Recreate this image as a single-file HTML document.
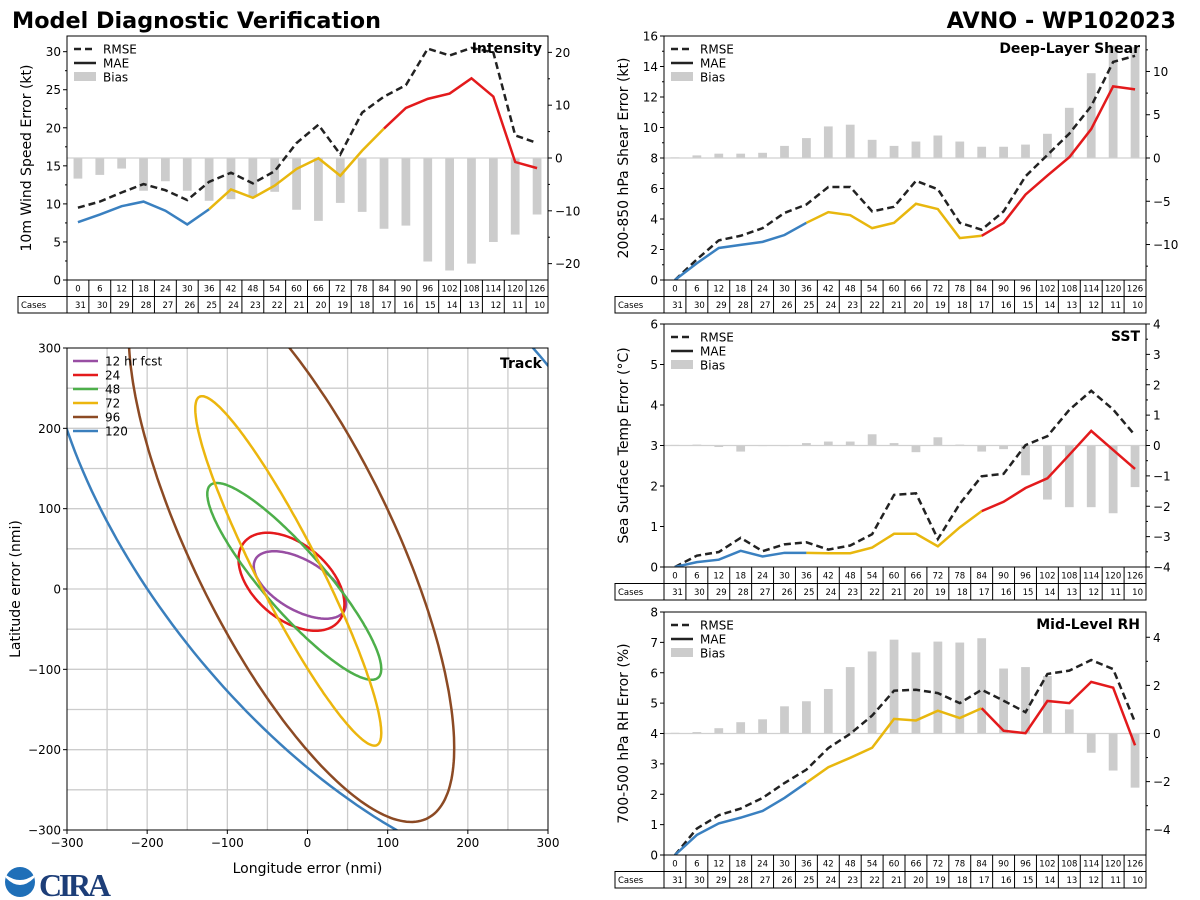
<!DOCTYPE html>
<html><head><meta charset="utf-8"><style>
body{margin:0;background:#fff;}
svg{display:block;font-family:"DejaVu Sans","Liberation Sans",sans-serif;}
</style></head><body>
<svg id="chart" width="1200" height="900" viewBox="0 0 1200 900" xmlns="http://www.w3.org/2000/svg">
<text x="12" y="28" font-size="22.3" font-weight="bold" fill="#000">Model Diagnostic Verification</text>
<text x="1176" y="28" font-size="22.3" font-weight="bold" text-anchor="end" fill="#000">AVNO - WP102023</text>
<g>
<circle cx="20" cy="882" r="15" fill="#1f6fb8"/>
<path d="M6 878 Q20 892 34 878 L34 875 Q20 885 6 875 Z" fill="#fff"/>
<text x="39" y="896" font-size="32" font-weight="bold" fill="#1d3e78" font-family="Liberation Serif, serif" textLength="72">CIRA</text>
</g>
</svg>
<script>
const hours = [0,6,12,18,24,30,36,42,48,54,60,66,72,78,84,90,96,102,108,114,120,126];
const cases = [31,30,29,28,27,26,25,24,23,22,21,20,19,18,17,16,15,14,13,12,11,10];

const intRmse = [9.5,10.3,11.5,12.6,11.8,10.5,12.9,14.1,12.7,14.3,18.0,20.4,16.5,22.0,24.1,25.6,30.4,29.5,30.5,29.9,19.0,18.0];
const intMae  = [7.6,8.6,9.7,10.3,9.1,7.3,9.3,11.9,10.8,12.4,14.6,16.0,13.7,17.0,19.9,22.6,23.8,24.5,26.5,24.1,15.5,14.7];
const intBias = [-3.9,-3.2,-2.0,-6.2,-4.4,-6.2,-8.1,-7.8,-7.3,-6.4,-9.8,-11.9,-8.5,-10.2,-13.4,-12.8,-19.6,-21.3,-20.0,-15.9,-14.5,-10.7];

const shrRmse = [0,1.35,2.6,2.9,3.4,4.4,4.95,6.1,6.1,4.5,4.8,6.5,5.95,3.75,3.3,4.5,6.8,8.2,9.6,11.4,14.3,14.7];
const shrMae  = [0,1.1,2.1,2.3,2.5,2.95,3.75,4.45,4.25,3.4,3.75,5.0,4.65,2.75,2.9,3.75,5.6,6.85,8.05,9.9,12.7,12.5];
const shrBias = [0.08,0.3,0.5,0.5,0.6,1.4,2.3,3.65,3.85,2.1,1.4,1.9,2.6,1.9,1.3,1.3,1.55,2.8,5.8,9.8,13.0,12.8];

const sstRmse = [0,0.28,0.37,0.72,0.39,0.56,0.61,0.43,0.53,0.81,1.78,1.82,0.69,1.56,2.24,2.3,3.01,3.23,3.88,4.35,3.89,3.25];
const sstMae  = [0,0.12,0.18,0.4,0.26,0.35,0.35,0.34,0.34,0.48,0.82,0.82,0.51,0.98,1.38,1.61,1.95,2.19,2.77,3.36,2.89,2.42];
const sstBias = [0.02,0.03,-0.05,-0.2,-0.02,-0.02,0.08,0.13,0.13,0.37,0.08,-0.22,0.27,0.03,-0.2,-0.12,-0.98,-1.78,-2.03,-2.03,-2.23,-1.37];

const rhRmse = [0,0.87,1.31,1.53,1.88,2.37,2.81,3.52,3.99,4.59,5.41,5.44,5.33,5.0,5.44,5.08,4.7,5.96,6.07,6.42,6.12,4.37];
const rhMae  = [0,0.66,1.04,1.23,1.45,1.88,2.38,2.89,3.2,3.53,4.48,4.43,4.75,4.51,4.83,4.09,4.01,5.07,5.0,5.7,5.51,3.61];
const rhBias = [0.03,0.06,0.22,0.47,0.59,1.13,1.34,1.85,2.76,3.41,3.9,3.37,3.82,3.78,3.96,2.7,2.76,2.39,1.0,-0.8,-1.54,-2.25];

// track ellipses: center x/y, half x extent, half y extent, correlation
const trkLabels = ['12 hr fcst','24','48','72','96','120'];
const trkCx  = [-9.5,-20,-16.5,-24,-20,83];
const trkCy  = [5,9,9.5,22.5,60,95];
const trkSx  = [57.5,66,108.5,116,203,413];
const trkSy  = [42,61,122.5,217.5,350,461];
const trkRho = [-0.561,-0.455,-0.889,-0.927,-0.736,-0.572];
const trkColors = ['#984ea3','#e41a1c','#4daf4a','#ecb60e','#8c4a24','#3a7fbd'];

const svg = document.getElementById('chart');
const NS = 'http://www.w3.org/2000/svg';
function mk(tag, attrs, parent){
  const e = document.createElementNS(NS, tag);
  for (const k in attrs) e.setAttribute(k, attrs[k]);
  (parent || svg).appendChild(e);
  return e;
}
function txt(str, attrs, parent){
  const e = mk('text', attrs, parent);
  e.textContent = str;
  return e;
}
function fmt(v){ return v < 0 ? '\u2212' + Math.abs(v) : String(v); }

let clipId = 0;
function panel(o){
  const g = mk('g', {});
  
  
  const {x0,x1,y0,y1} = o;
  const n = hours.length, cw = (x1 - x0) / n;
  const xc = i => x0 + (i + 0.5) * cw;
  const yl = v => y1 - (v / o.lMax) * (y1 - y0);
  const yr = v => y1 - (v - o.rMin) / (o.rMax - o.rMin) * (y1 - y0);
  clipId++;
  const cp = mk('clipPath', {id: 'cp' + clipId}, g);
  mk('rect', {x: x0, y: y0, width: x1 - x0, height: y1 - y0}, cp);
  const inner = mk('g', {'clip-path': 'url(#cp' + clipId + ')'}, g);
  o.bias.forEach((b, i) => {
    const top = Math.min(yr(b), yr(0)), h = Math.abs(yr(b) - yr(0));
    const r = mk('rect', {x: xc(i) - cw * 0.2, y: top, width: cw * 0.4, height: Math.max(h, 0.6), fill: '#cccccc'}, inner);
    
    
  });
  const zl = mk('line', {x1: x0, x2: x1, y1: yr(0), y2: yr(0), stroke: '#d0d0d0', 'stroke-width': 1.2}, inner);
  
  
  const rp = mk('polyline', {points: o.rmse.map((v, i) => xc(i) + ',' + yl(v)).join(' '), fill: 'none', stroke: '#222', 'stroke-width': 2.5, 'stroke-dasharray': '7,4'}, inner);
  
  
  const segs = [[0, 6, '#3a80c0'], [6, 14, '#e8b70e'], [14, 21, '#e31a1c']];
  segs.forEach(s => {
    const pts = [];
    for (let i = s[0]; i <= s[1]; i++) pts.push(xc(i) + ',' + yl(o.mae[i]));
    const m = mk('polyline', {points: pts.join(' '), fill: 'none', stroke: s[2], 'stroke-width': 2.5}, inner);
    
    
  });
  const fr = mk('rect', {x: x0, y: y0, width: x1 - x0, height: y1 - y0, fill: 'none', stroke: '#000', 'stroke-width': 1}, g);
  
  
  o.lTicks.forEach(v => {
    mk('line', {x1: x0 - 4, x2: x0, y1: yl(v), y2: yl(v), stroke: '#000'}, g);
    const t = txt(String(v), {x: x0 - 6, y: yl(v) + 4.5, 'font-size': 12, 'text-anchor': 'end'}, g);
    
    
  });
  (o.lMinor || []).forEach(v => mk('line', {x1: x0 - 2, x2: x0, y1: yl(v), y2: yl(v), stroke: '#000'}, g));
  o.rTicks.forEach(v => {
    mk('line', {x1: x1, x2: x1 + 4, y1: yr(v), y2: yr(v), stroke: '#000'}, g);
    const t = txt(fmt(v), {x: x1 + 7, y: yr(v) + 4.5, 'font-size': 12}, g);
    
    
  });
  (o.rMinor || []).forEach(v => mk('line', {x1: x1, x2: x1 + 2, y1: yr(v), y2: yr(v), stroke: '#000'}, g));
  const yc = (y0 + y1) / 2;
  const lab = txt(o.ylabel, {x: 0, y: 0, 'font-size': 14, 'text-anchor': 'middle', transform: 'translate(' + o.labelX + ',' + yc + ') rotate(-90)'}, g);
  
  
  const ti = txt(o.title, {x: x1 - 6, y: y0 + 17, 'font-size': 14, 'font-weight': 'bold', 'text-anchor': 'end'}, g);
  
  
  const lg = mk('g', {}, g);
  
  
  const lx = x0 + 7, ly = y0 + 13;
  mk('line', {x1: lx, x2: lx + 22, y1: ly, y2: ly, stroke: '#222', 'stroke-width': 2.5, 'stroke-dasharray': '7,4'}, lg);
  const t1 = txt('RMSE', {x: lx + 29, y: ly + 4.5, 'font-size': 12}, lg);
  
  
  mk('line', {x1: lx, x2: lx + 22, y1: ly + 14, y2: ly + 14, stroke: '#222', 'stroke-width': 2.5}, lg);
  const t2 = txt('MAE', {x: lx + 29, y: ly + 18.5, 'font-size': 12}, lg);
  
  
  mk('rect', {x: lx, y: ly + 23, width: 22, height: 9, fill: '#cccccc'}, lg);
  const t3 = txt('Bias', {x: lx + 29, y: ly + 32.5, 'font-size': 12}, lg);
  
  
  const tb = mk('g', {}, g);
  
  
  const r1 = y1, r2 = y1 + 16.5, r3 = y1 + 33;
  mk('rect', {x: x0, y: r1, width: x1 - x0, height: r3 - r1, fill: 'none', stroke: '#000'}, tb);
  mk('rect', {x: x0 - 49, y: r2, width: 49, height: r3 - r2, fill: 'none', stroke: '#000'}, tb);
  mk('line', {x1: x0, x2: x1, y1: r2, y2: r2, stroke: '#000'}, tb);
  const ct = txt('Cases', {x: x0 - 46, y: r2 + 11.5, 'font-size': 8.5}, tb);
  
  
  hours.forEach((h, i) => {
    if (i > 0) mk('line', {x1: x0 + i * cw, x2: x0 + i * cw, y1: r1, y2: r3, stroke: '#000'}, tb);
    const th = txt(String(h), {x: xc(i), y: r1 + 11.5, 'font-size': 8.5, 'text-anchor': 'middle'}, tb);
    
    
    const tc = txt(String(cases[i]), {x: x0 + (i + 1) * cw - 3, y: r2 + 11.5, 'font-size': 8.5, 'text-anchor': 'end'}, tb);
    
    
  });
}

panel({name: 'intensity', x0: 67, x1: 548, y0: 36, y1: 280, lMax: 32.06, rMin: -23.1, rMax: 23.1,
  lTicks: [0,5,10,15,20,25,30], lMinor: [2.5,7.5,12.5,17.5,22.5,27.5],
  rTicks: [-20,-10,0,10,20], rMinor: [-15,-5,5,15],
  rmse: intRmse, mae: intMae, bias: intBias, title: 'Intensity', ylabel: '10m Wind Speed Error (kt)', labelX: 31});
panel({name: 'shear', x0: 664, x1: 1146, y0: 36, y1: 280, lMax: 16, rMin: -14.1, rMax: 14.1,
  lTicks: [0,2,4,6,8,10,12,14,16], lMinor: [1,3,5,7,9,11,13,15],
  rTicks: [-10,-5,0,5,10], rMinor: [-12.5,-7.5,-2.5,2.5,7.5,12.5],
  rmse: shrRmse, mae: shrMae, bias: shrBias, title: 'Deep-Layer Shear', ylabel: '200-850 hPa Shear Error (kt)', labelX: 628});
panel({name: 'sst', x0: 664, x1: 1146, y0: 324, y1: 567, lMax: 6, rMin: -4, rMax: 4,
  lTicks: [0,1,2,3,4,5,6], lMinor: [],
  rTicks: [-4,-3,-2,-1,0,1,2,3,4], rMinor: [-3.5,-2.5,-1.5,-0.5,0.5,1.5,2.5,3.5],
  rmse: sstRmse, mae: sstMae, bias: sstBias, title: 'SST', ylabel: 'Sea Surface Temp Error (\u00B0C)', labelX: 628});
panel({name: 'rh', x0: 664, x1: 1146, y0: 612, y1: 855, lMax: 8, rMin: -5.05, rMax: 5.05,
  lTicks: [0,1,2,3,4,5,6,7,8], lMinor: [],
  rTicks: [-4,-2,0,2,4], rMinor: [-3,-1,1,3],
  rmse: rhRmse, mae: rhMae, bias: rhBias, title: 'Mid-Level RH', ylabel: '700-500 hPa RH Error (%)', labelX: 628});

(function(){
  const x0 = 67, x1 = 548, y0 = 348, y1 = 830;
  const sx = v => x0 + (v + 300) / 600 * (x1 - x0);
  const sy = v => y1 - (v + 300) / 600 * (y1 - y0);
  const g = mk('g', {});
  
  
  const cp = mk('clipPath', {id: 'trackclip'}, g);
  mk('rect', {x: x0, y: y0, width: x1 - x0, height: y1 - y0}, cp);
  const inner = mk('g', {'clip-path': 'url(#trackclip)'}, g);
  for (let v = -250; v <= 250; v += 50) {
    const gl = mk('line', {x1: sx(v), x2: sx(v), y1: y0, y2: y1, stroke: '#cccccc', 'stroke-width': 1.3}, inner);
    
    
    const gh = mk('line', {x1: x0, x2: x1, y1: sy(v), y2: sy(v), stroke: '#cccccc', 'stroke-width': 1.3}, inner);
    
    
  }
  trkCx.forEach((cx, k) => {
    const pts = [];
    const q = Math.sqrt(1 - trkRho[k] * trkRho[k]);
    for (let j = 0; j <= 240; j++) {
      const t = j / 240 * 2 * Math.PI;
      const x = cx + trkSx[k] * Math.cos(t);
      const y = trkCy[k] + trkSy[k] * (trkRho[k] * Math.cos(t) + q * Math.sin(t));
      pts.push(sx(x).toFixed(1) + ',' + sy(y).toFixed(1));
    }
    const e = mk('polygon', {points: pts.join(' '), fill: 'none', stroke: trkColors[k], 'stroke-width': 2.5}, inner);
    
    
  });
  const fr = mk('rect', {x: x0, y: y0, width: x1 - x0, height: y1 - y0, fill: 'none', stroke: '#000'}, g);
  
  
  for (let v = -300; v <= 300; v += 100) {
    mk('line', {x1: sx(v), x2: sx(v), y1: y1, y2: y1 + 4, stroke: '#000'}, g);
    const tx = txt(fmt(v), {x: sx(v), y: y1 + 17, 'font-size': 12, 'text-anchor': 'middle'}, g);
    
    
    mk('line', {x1: x0 - 4, x2: x0, y1: sy(v), y2: sy(v), stroke: '#000'}, g);
    const ty = txt(fmt(v), {x: x0 - 6, y: sy(v) + 4.5, 'font-size': 12, 'text-anchor': 'end'}, g);
    
    
  }
  const xl = txt('Longitude error (nmi)', {x: (x0 + x1) / 2, y: y1 + 43, 'font-size': 14, 'text-anchor': 'middle'}, g);
  
  
  const yl = txt('Latitude error (nmi)', {x: 0, y: 0, 'font-size': 14, 'text-anchor': 'middle', transform: 'translate(20,' + (y0 + y1) / 2 + ') rotate(-90)'}, g);
  
  
  const ti = txt('Track', {x: x1 - 6, y: y0 + 20, 'font-size': 14, 'font-weight': 'bold', 'text-anchor': 'end'}, g);
  
  
  const lg = mk('g', {}, g);
  
  
  trkLabels.forEach((l, k) => {
    const yy = y0 + 13 + k * 14;
    mk('line', {x1: x0 + 6, x2: x0 + 31, y1: yy, y2: yy, stroke: trkColors[k], 'stroke-width': 2.5}, lg);
    const t = txt(l, {x: x0 + 38, y: yy + 4.5, 'font-size': 12}, lg);
    
    
  });
})();
</script>
</body></html>
